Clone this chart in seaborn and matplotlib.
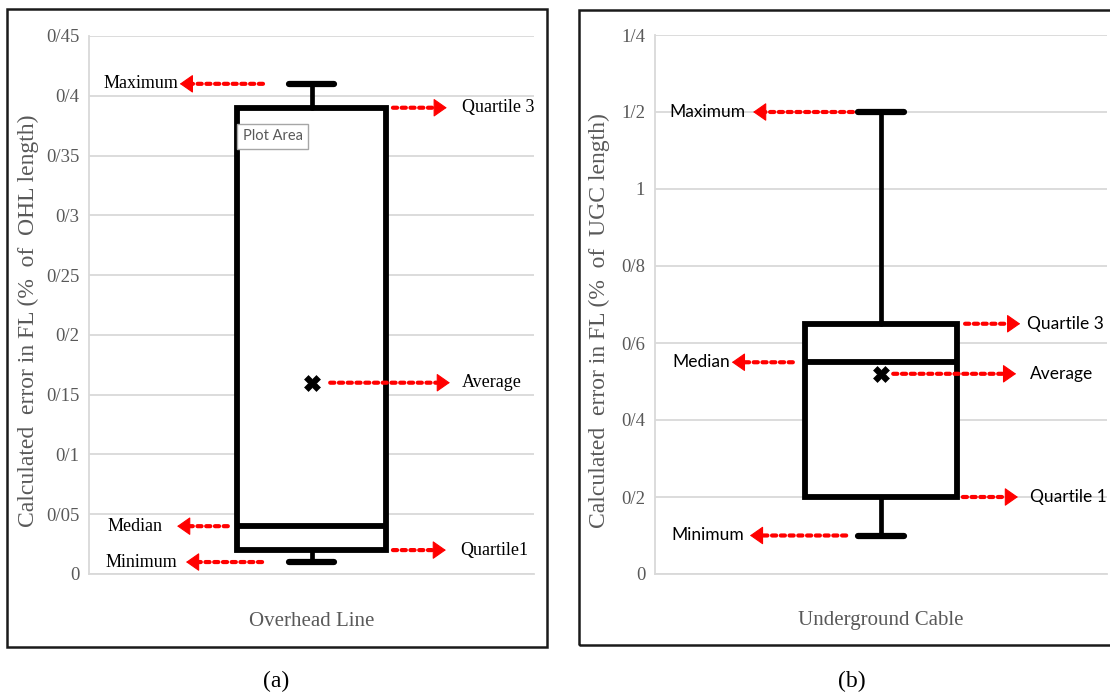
import matplotlib
matplotlib.use("Agg")
import matplotlib.pyplot as plt
from matplotlib.patches import Rectangle
from matplotlib.ticker import MultipleLocator, FuncFormatter
import seaborn as sns
import pandas as pd

# ---------------- data ----------------
categories = ["Overhead Line", "Underground Cable"]
minimum = [0.01, 0.10]
quartile1 = [0.02, 0.20]
median = [0.04, 0.55]
quartile3 = [0.39, 0.65]
maximum = [0.41, 1.20]
average = [0.16, 0.52]
y_top = [0.45, 1.4]
y_step = [0.05, 0.2]
y_labels = ["Calculated  error in FL (%  of  OHL length)",
            "Calculated  error in FL (%  of  UGC length)"]
panel_tags = ["(a)", "(b)"]
q1_names = ["Quartile1", "Quartile 1"]

# ---------------- style ----------------
sns.set_theme(style="whitegrid", rc={"grid.color": "#d9d9d9", "grid.linewidth": 1.3,
                                     "axes.edgecolor": "#d9d9d9"})
SERIF = ["Liberation Serif", "DejaVu Serif"]
NARROW = ["Lato", "Liberation Sans", "DejaVu Sans"]
GRAY = "#595959"

W, H = 1110, 693
fig = plt.figure(figsize=(W / 100, H / 100), dpi=100)
fig.patch.set_facecolor("white")

# pixel layout of each panel: axes (left, right, top, bottom), frame (x0, x1, y0, y1)
axes_px = [(89, 534, 36, 574), (655, 1107, 35, 574)]
frames_px = [(7, 547, 9, 647), (579, 1120, 10, 645)]
ylabel_x = [-0.137, -0.124]
tag_x = [276, 852]

# annotation layout (axes-fraction x of arrow tail, head, text) per panel
arrow_layout = [
    {"Maximum": (0.391, 0.204, 0.200, "right"),
     "Quartile 3": (0.683, 0.804, 0.838, "left"),
     "Average": (0.542, 0.811, 0.838, "left"),
     "Median": (0.312, 0.198, 0.166, "right"),
     "Minimum": (0.389, 0.218, 0.198, "right"),
     "Quartile 1": (0.683, 0.802, 0.834, "left")},
    {"Maximum": (0.438, 0.217, 0.201, "right"),
     "Quartile 3": (0.686, 0.808, 0.823, "left"),
     "Average": (0.527, 0.799, 0.830, "left"),
     "Median": (0.305, 0.170, 0.166, "right"),
     "Minimum": (0.423, 0.210, 0.197, "right"),
     "Quartile 1": (0.681, 0.803, 0.830, "left")},
]
HEAD_LEN = 0.026  # axes fraction covered by the solid arrow head

fmt = FuncFormatter(lambda v, p: f"{v:.10g}".replace(".", "/"))

for i, cat in enumerate(categories):
    l, r, t, b = axes_px[i]
    ax = fig.add_axes([l / W, (H - b) / H, (r - l) / W, (b - t) / H])
    ax.set_facecolor("white")
    ax.set_xlim(-0.5, 0.5)
    ax.set_ylim(0, y_top[i])
    ax.yaxis.set_major_locator(MultipleLocator(y_step[i]))
    ax.yaxis.set_major_formatter(fmt)
    ax.grid(axis="x", visible=False)
    ax.grid(axis="y", visible=True)
    for s in ("top", "right"):
        ax.spines[s].set_visible(False)
    ax.spines["left"].set_color("#d9d9d9")
    ax.spines["bottom"].set_color("#d9d9d9")
    ax.spines["left"].set_linewidth(1.3)
    ax.spines["bottom"].set_linewidth(1.3)
    ax.tick_params(axis="y", length=0, pad=7, labelsize=13.5, labelcolor=GRAY)
    ax.tick_params(axis="x", length=0, pad=27, labelsize=15, labelcolor=GRAY)
    for lab in ax.get_yticklabels():
        lab.set_family(SERIF)

    stats = [{"med": median[i], "q1": quartile1[i], "q3": quartile3[i],
              "whislo": minimum[i], "whishi": maximum[i], "label": cat}]
    ax.bxp(stats, positions=[0], widths=0.337, capwidths=[0.1], showfliers=False,
           patch_artist=True, manage_ticks=False,
           boxprops=dict(facecolor="white", edgecolor="black", linewidth=4.2),
           medianprops=dict(color="black", linewidth=4.2),
           whiskerprops=dict(color="black", linewidth=3.4),
           capprops=dict(color="black", linewidth=4.5))
    ax.set_xticks([0])
    ax.set_xticklabels([cat], family=SERIF)

    df = pd.DataFrame({"x": [0], "avg": [average[i]]})
    sns.scatterplot(data=df, x="x", y="avg", marker="X", s=130, color="black",
                    edgecolor="black", linewidth=0.5, ax=ax, zorder=6, legend=False)
    ax.set_xlabel("")
    ax.set_ylabel(y_labels[i], family=SERIF, fontsize=17, color=GRAY)
    ax.yaxis.set_label_coords(ylabel_x[i], 0.47)
    ax.yaxis.label.set_verticalalignment("center")

    values = {"Maximum": maximum[i], "Quartile 3": quartile3[i], "Average": average[i],
              "Median": median[i], "Minimum": minimum[i], "Quartile 1": quartile1[i]}
    font = SERIF if i == 0 else NARROW
    fsize = 13 if i == 0 else 12.5
    coords = ("axes fraction", "data")
    for name, (x_tail, x_head, x_text, ha) in arrow_layout[i].items():
        yv = values[name]
        direction = 1 if x_head > x_tail else -1
        x_neck = x_head - direction * HEAD_LEN
        # dotted shaft
        ax.annotate("", xy=(x_neck, yv), xytext=(x_tail, yv),
                    xycoords=coords, textcoords=coords,
                    arrowprops=dict(arrowstyle="-", color="red", lw=3,
                                    linestyle=(0, (1, 1.1)), shrinkA=0, shrinkB=0),
                    zorder=7)
        # solid head
        ax.annotate("", xy=(x_head, yv), xytext=(x_neck, yv),
                    xycoords=coords, textcoords=coords,
                    arrowprops=dict(arrowstyle="-|>,head_length=0.6,head_width=0.42",
                                    color="red", lw=0.8, shrinkA=0, shrinkB=0,
                                    mutation_scale=14),
                    zorder=7)
        text = q1_names[i] if name == "Quartile 1" else name
        ax.text(x_text, yv, text, transform=ax.get_yaxis_transform(),
                ha=ha, va="center", family=font, fontsize=fsize, color="black", zorder=8)

    if i == 0:
        ax.text(0.345, 0.366, "Plot Area", transform=ax.get_yaxis_transform(),
                ha="left", va="center", family=NARROW, fontsize=10.5, color=GRAY, zorder=9,
                bbox=dict(boxstyle="square,pad=0.35", facecolor="white",
                          edgecolor="#a6a6a6", linewidth=1))

    x0, x1, y0, y1 = frames_px[i]
    fig.add_artist(Rectangle((x0 / W, (H - y1) / H), (x1 - x0) / W, (y1 - y0) / H,
                             transform=fig.transFigure, fill=False,
                             edgecolor="#1a1a1a", linewidth=1.8, zorder=10))
    fig.text(tag_x[i] / W, (H - 681) / H, panel_tags[i], ha="center", va="center",
             family=SERIF, fontsize=17, color="black")

fig.savefig("out.png", dpi=100, facecolor="white")
